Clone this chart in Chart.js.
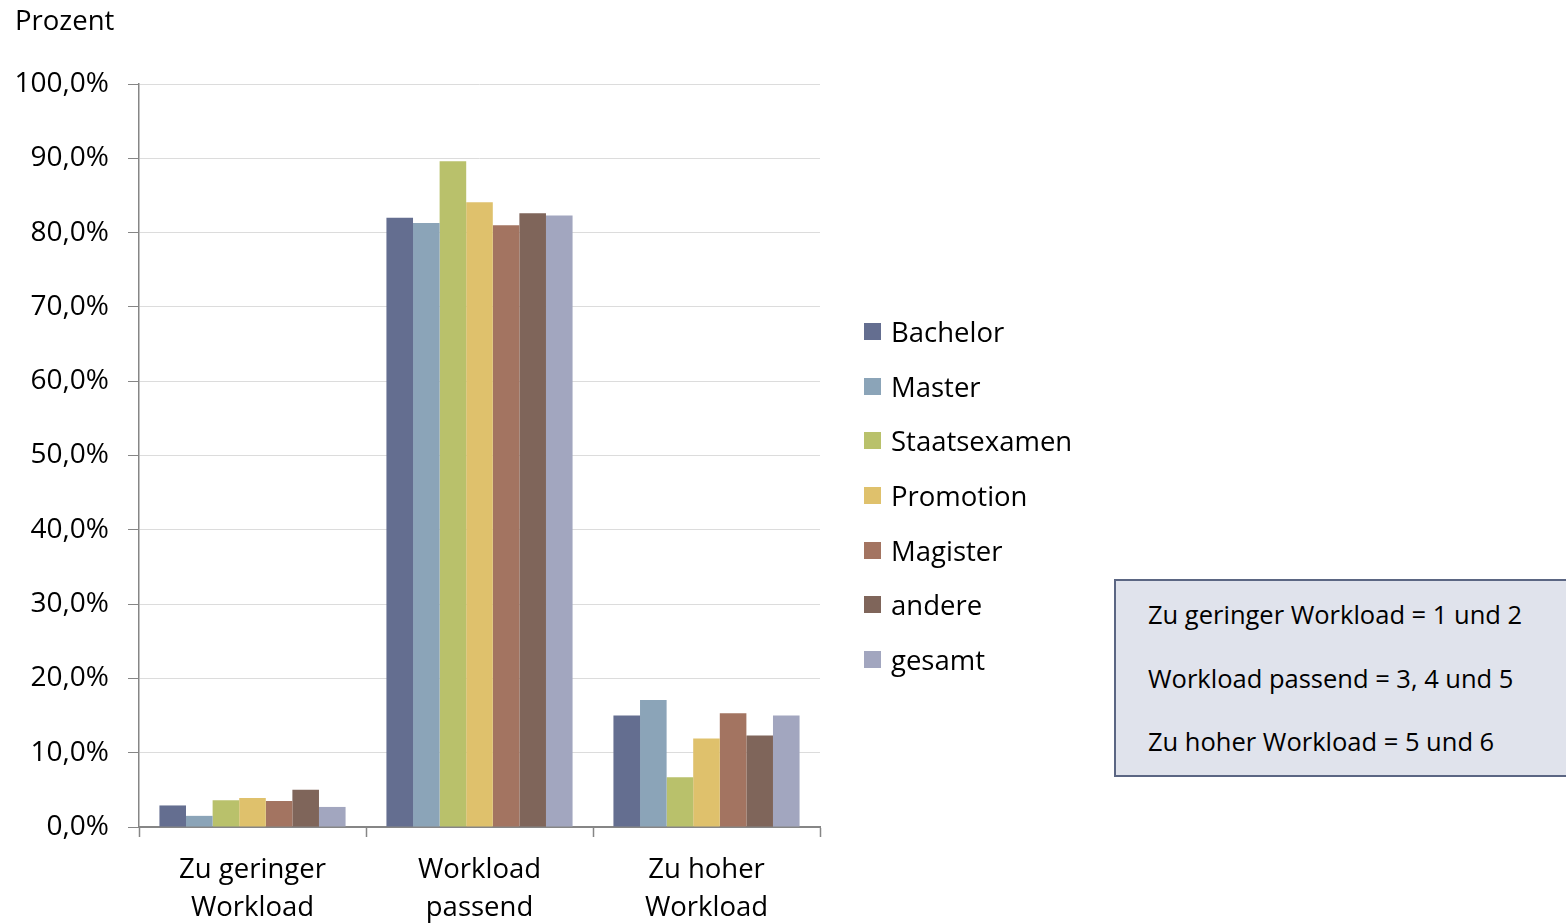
<!DOCTYPE html>
<html lang="de">
<head>
<meta charset="UTF-8">
<script src="https://cdn.jsdelivr.net/npm/chart.js"></script>
<title>Workload</title>
<style>
  body { margin: 0; background: #fff; font-family: 'Open Sans', sans-serif; }
  #wrap { position: relative; width: 1566px; height: 924px; overflow: hidden; }
  #title { position: absolute; left: 15px; top: 1px; font-size: 27.5px; color: #000; }
  #legend { position: absolute; left: 864px; top: 304px; font-size: 27.5px; }
  #legend div { height: 54.7px; display: flex; align-items: center; }
  #legend span.sq { width: 17px; height: 17px; margin-right: 10px; display: inline-block; }
  #note { position: absolute; left: 1114px; top: 579px; width: 470px; height: 198px;
          background: #e0e3ec; border: 2px solid #5b6683; font-size: 25.5px; box-sizing: border-box; }
  #note div { position: absolute; left: 32px; }
</style>
</head>
<body>
<div id="wrap">
  <canvas id="myChart" width="1566" height="924"></canvas>
  <div id="title">Prozent</div>
  <div id="legend"></div>
  <div id="note">
    <div style="top:16px">Zu geringer Workload = 1 und 2</div>
    <div style="top:80px">Workload passend = 3, 4 und 5</div>
    <div style="top:143px">Zu hoher Workload = 5 und 6</div>
  </div>
</div>
<script>
  var categories = [['Zu geringer', 'Workload'], ['Workload', 'passend'], ['Zu hoher', 'Workload']];
  var seriesNames = ['Bachelor', 'Master', 'Staatsexamen', 'Promotion', 'Magister', 'andere', 'gesamt'];
  var bachelor = [2.9, 82.0, 15.0];
  var master = [1.5, 81.3, 17.1];
  var staatsexamen = [3.6, 89.6, 6.7];
  var promotion = [3.9, 84.1, 11.9];
  var magister = [3.5, 81.0, 15.3];
  var andere = [5.0, 82.6, 12.3];
  var gesamt = [2.7, 82.3, 15.0];
  var colors = ['#646e90', '#8ba4b8', '#b9c16b', '#dfc16c', '#a37461', '#7f655a', '#a2a6bf'];

  var values = [bachelor, master, staatsexamen, promotion, magister, andere, gesamt];
  var datasets = [];
  for (var i = 0; i < seriesNames.length; i++) {
    datasets.push({
      label: seriesNames[i],
      data: values[i],
      backgroundColor: colors[i],
      borderWidth: 0,
      barPercentage: 1,
      categoryPercentage: 0.82
    });
  }

  // legend
  var lg = document.getElementById('legend');
  for (var i = 0; i < seriesNames.length; i++) {
    var row = document.createElement('div');
    row.innerHTML = '<span class="sq" style="background:' + colors[i] + '"></span>' + seriesNames[i];
    lg.appendChild(row);
  }

  var ctx = document.getElementById('myChart').getContext('2d');
  new Chart(ctx, {
    type: 'bar',
    data: { labels: categories, datasets: datasets },
    options: {
      responsive: false,
      animation: false,
      layout: { padding: { top: 84, right: 746, left: 0, bottom: 0 } },
      plugins: { legend: { display: false }, tooltip: { enabled: false } },
      scales: {
        x: {
          afterFit: function (s) { s.height = 97; },
          grid: { offset: true, drawOnChartArea: false, tickLength: 10, tickColor: '#868686', tickWidth: 1.5 },
          border: { color: '#868686', width: 2 },
          ticks: { color: '#000', padding: 14, font: { family: 'Open Sans', size: 27.5, lineHeight: 1.38 } }
        },
        y: {
          min: 0, max: 100,
          afterFit: function (s) { s.width = 139; },
          grid: { color: '#dcdcdc', tickColor: '#868686', tickLength: 11, lineWidth: 1 },
          border: { color: '#868686', width: 1.5 },
          ticks: {
            stepSize: 10, color: '#000', padding: 19,
            font: { family: 'Open Sans', size: 28 },
            callback: function (v) { return v.toFixed(1).replace('.', ',') + '%'; }
          }
        }
      }
    }
  });
</script>
</body>
</html>
